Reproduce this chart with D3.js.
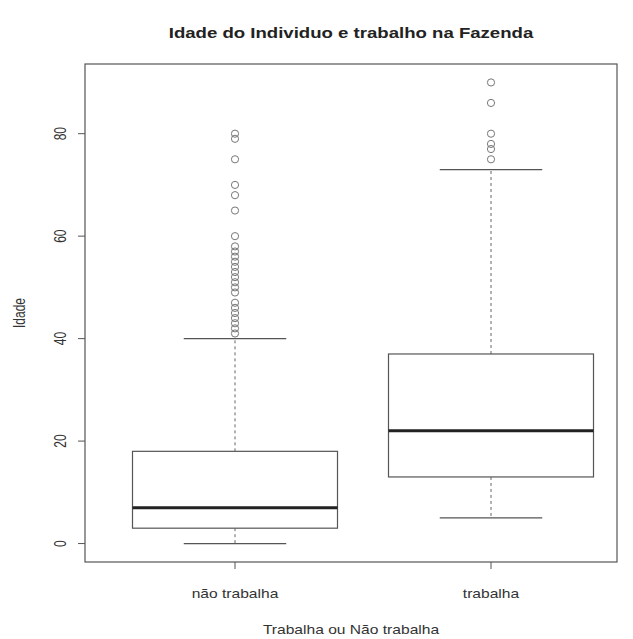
<!DOCTYPE html>
<html>
<head>
<meta charset="utf-8">
<script src="https://cdn.jsdelivr.net/npm/d3@7"></script>
<style>
  body { margin: 0; background: #fff; }
  text { font-family: "Liberation Sans", Arial, sans-serif; fill: #333; }
</style>
</head>
<body>
<div id="chart"></div>
<script>
// Box statistics per group
const categories = ['não trabalha', 'trabalha'];
const lowerWhisker = [0, 5];
const q1 = [3, 13];
const median = [7, 22];
const q3 = [18, 37];
const upperWhisker = [40, 73];

// Outliers per group
const outliersNao = [41, 42, 43, 44, 45, 46, 47, 49, 50, 51, 52, 53, 54, 55, 56, 57, 58, 60, 65, 68, 70, 75, 79, 80];
const outliersTrab = [75, 77, 78, 80, 86, 90];

const yTicks = [0, 20, 40, 60, 80];

const svgWidth = 633;
const svgHeight = 639;

// Plot region (the framed box)
const chartMargin = { top: 64, right: 16, bottom: 77, left: 85 };
const chartWidth = svgWidth - chartMargin.left - chartMargin.right;
const chartHeight = svgHeight - chartMargin.top - chartMargin.bottom;

// the source image is stretched horizontally, so text gets stretched too
const sx = 1.3;

const svg = d3.select('#chart')
    .append('svg')
    .attr('width', svgWidth)
    .attr('height', svgHeight);

const chartGroup = svg.append('g')
    .attr('transform', `translate(${chartMargin.left}, ${chartMargin.top})`);

const xScale = d3.scalePoint()
    .domain(categories)
    .range([150, 406]);

const yScale = d3.scaleLinear()
    .domain([-3.6, 93.6])
    .range([chartHeight, 0]);

const boxWidth = 205;
const stapleWidth = boxWidth / 2;

const boxes = categories.map((c, i) => ({
    cat: c,
    lo: lowerWhisker[i],
    q1: q1[i],
    med: median[i],
    q3: q3[i],
    hi: upperWhisker[i],
    out: i === 0 ? outliersNao : outliersTrab
}));

const boxG = chartGroup.selectAll('.box')
    .data(boxes)
    .enter()
    .append('g')
    .attr('class', 'box')
    .attr('transform', d => `translate(${xScale(d.cat)}, 0)`);

// dashed whiskers
boxG.append('line')
    .attr('y1', d => yScale(d.q3))
    .attr('y2', d => yScale(d.hi))
    .attr('stroke', '#666')
    .attr('stroke-dasharray', '3,3');
boxG.append('line')
    .attr('y1', d => yScale(d.q1))
    .attr('y2', d => yScale(d.lo))
    .attr('stroke', '#666')
    .attr('stroke-dasharray', '3,3');

// staples
boxG.selectAll('.staple')
    .data(d => [d.lo, d.hi])
    .enter()
    .append('line')
    .attr('x1', -stapleWidth / 2)
    .attr('x2', stapleWidth / 2)
    .attr('y1', v => yScale(v))
    .attr('y2', v => yScale(v))
    .attr('stroke', '#555')
    .attr('stroke-width', 1.2);

// box
boxG.append('rect')
    .attr('x', -boxWidth / 2)
    .attr('width', boxWidth)
    .attr('y', d => yScale(d.q3))
    .attr('height', d => yScale(d.q1) - yScale(d.q3))
    .attr('fill', 'white')
    .attr('stroke', '#555')
    .attr('stroke-width', 1.2);

// median
boxG.append('line')
    .attr('x1', -boxWidth / 2)
    .attr('x2', boxWidth / 2)
    .attr('y1', d => yScale(d.med))
    .attr('y2', d => yScale(d.med))
    .attr('stroke', '#222')
    .attr('stroke-width', 3);

// outliers
boxG.selectAll('circle')
    .data(d => d.out)
    .enter()
    .append('circle')
    .attr('cx', 0)
    .attr('cy', v => yScale(v))
    .attr('r', 3.6)
    .attr('fill', 'none')
    .attr('stroke', '#777')
    .attr('stroke-width', 1);

// frame
chartGroup.append('rect')
    .attr('width', chartWidth)
    .attr('height', chartHeight)
    .attr('fill', 'none')
    .attr('stroke', '#555')
    .attr('stroke-width', 1.2);

// y axis ticks and rotated labels
chartGroup.selectAll('.ytick')
    .data(yTicks)
    .enter()
    .append('line')
    .attr('x1', -7)
    .attr('x2', 0)
    .attr('y1', d => yScale(d))
    .attr('y2', d => yScale(d))
    .attr('stroke', '#555');

chartGroup.selectAll('.ylab')
    .data(yTicks)
    .enter()
    .append('text')
    .attr('transform', d => `translate(-19, ${yScale(d)}) scale(${sx},1) rotate(-90)`)
    .attr('text-anchor', 'middle')
    .attr('font-size', 12)
    .text(d => d);

// x axis ticks and labels
chartGroup.selectAll('.xtick')
    .data(categories)
    .enter()
    .append('line')
    .attr('x1', d => xScale(d))
    .attr('x2', d => xScale(d))
    .attr('y1', chartHeight)
    .attr('y2', chartHeight + 7)
    .attr('stroke', '#555');

chartGroup.selectAll('.xlab')
    .data(categories)
    .enter()
    .append('text')
    .attr('transform', d => `translate(${xScale(d)}, ${chartHeight + 36}) scale(${sx},1)`)
    .attr('text-anchor', 'middle')
    .attr('font-size', 12)
    .text(d => d);

// Title and axis labels
svg.append('text')
    .attr('transform', `translate(${chartMargin.left + chartWidth / 2}, 38) scale(${sx},1)`)
    .attr('text-anchor', 'middle')
    .attr('font-size', 14.3)
    .attr('font-weight', 'bold')
    .style('fill', '#222')
    .text('Idade do Individuo e trabalho na Fazenda');

svg.append('text')
    .attr('transform', `translate(${chartMargin.left + chartWidth / 2}, 634) scale(${sx},1)`)
    .attr('text-anchor', 'middle')
    .attr('font-size', 12)
    .text('Trabalha ou Não trabalha');

svg.append('text')
    .attr('transform', `translate(25, ${chartMargin.top + chartHeight / 2}) scale(${sx},1) rotate(-90)`)
    .attr('text-anchor', 'middle')
    .attr('font-size', 12)
    .text('Idade');
</script>
</body>
</html>
